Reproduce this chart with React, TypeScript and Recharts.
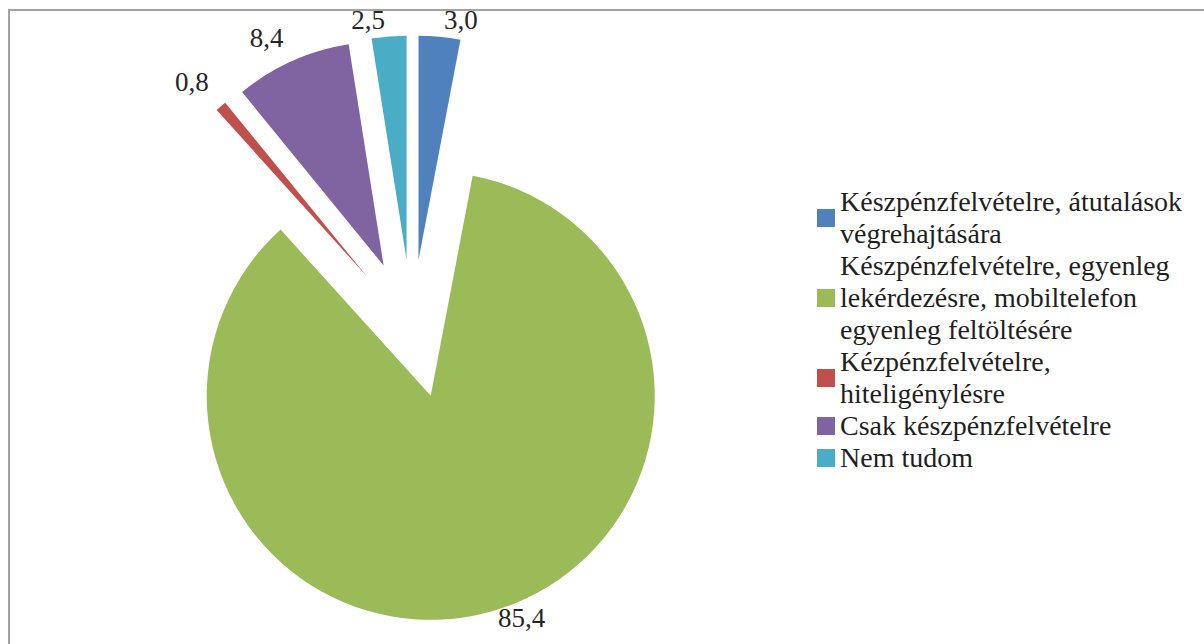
import React from 'react';
import { PieChart, Pie, Cell, Legend, Sector } from 'recharts';

const categories = [
  'Készpénzfelvételre, átutalások\nvégrehajtására',
  'Készpénzfelvételre, egyenleg\nlekérdezésre, mobiltelefon\negyenleg feltöltésére',
  'Kézpénzfelvételre,\nhiteligénylésre',
  'Csak készpénzfelvételre',
  'Nem tudom',
];
const shares = [3.0, 85.4, 0.8, 8.4, 2.5];
const colors = ['#4F81BD', '#9BBB59', '#C0504D', '#8064A2', '#4BACC6'];

const data = categories.map((name, i) => ({ name, value: shares[i] }));

const FONT = 'Liberation Serif, Tinos, Noto Serif, DejaVu Serif, Times, serif';
const RAD = Math.PI / 180;
const EXPLODE = 0.31; // every slice pulled out by this share of the radius

const ExplodedSector = (props: any) => {
  const { cx, cy, midAngle, outerRadius } = props;
  const d = outerRadius * EXPLODE;
  return (
    <Sector
      {...props}
      cx={cx + Math.cos(-midAngle * RAD) * d}
      cy={cy + Math.sin(-midAngle * RAD) * d}
    />
  );
};

const renderLabel = (props: any) => {
  const { cx, cy, midAngle, outerRadius, value } = props;
  const cos = Math.cos(-midAngle * RAD);
  const sin = Math.sin(-midAngle * RAD);
  const r = outerRadius * (1 + EXPLODE) + 14;
  // labels on slanted slices sit a bit higher, like the office chart does it
  const lift = Math.abs(cos * sin) * 28;
  const gap = 3 * Math.sign(cos || 1);
  return (
    <text
      x={cx + r * cos + gap}
      y={cy + r * sin - lift}
      textAnchor={cos >= 0 ? 'start' : 'end'}
      dominantBaseline="central"
      fill="#262626"
      style={{ fontFamily: FONT }}
      fontSize={27}
    >
      {Number(value).toFixed(1).replace('.', ',')}
    </text>
  );
};

const renderLegend = () => (
  <div style={{ fontFamily: FONT, fontSize: 28, lineHeight: '32px', color: '#1f1f1f' }}>
    {categories.map((name, i) => (
      <div key={i} style={{ display: 'flex', alignItems: 'center' }}>
        <span
          style={{
            width: 18,
            height: 18,
            background: colors[i],
            marginRight: 5,
            flexShrink: 0,
          }}
        />
        <span style={{ whiteSpace: 'pre-line' }}>{name}</span>
      </div>
    ))}
  </div>
);

export default function App() {
  return (
    <div
      style={{
        position: 'absolute',
        left: 0,
        top: 0,
        width: 1204,
        height: 644,
        overflow: 'hidden',
        background: '#fff',
      }}
    >
      <div
        style={{
          position: 'absolute',
          left: 8,
          top: 9,
          width: 1300,
          height: 700,
          borderLeft: '2px solid #a3a3a3',
          borderTop: '2px solid #a3a3a3',
        }}
      />
      <div style={{ position: 'absolute', left: 10, top: 11 }}>
        <PieChart width={1194} height={633}>
          <Pie
            data={data}
            dataKey="value"
            nameKey="name"
            cx={397}
            cy={313}
            outerRadius={224}
            startAngle={90}
            endAngle={-270}
            stroke="none"
            label={renderLabel}
            labelLine={false}
            shape={ExplodedSector}
            isAnimationActive={false}
          >
            {data.map((_, i) => (
              <Cell key={`cell-${i}`} fill={colors[i]} />
            ))}
          </Pie>
          <Legend
            layout="vertical"
            content={renderLegend}
            wrapperStyle={{ left: 807, top: 175, width: 390 }}
          />
        </PieChart>
      </div>
    </div>
  );
}
